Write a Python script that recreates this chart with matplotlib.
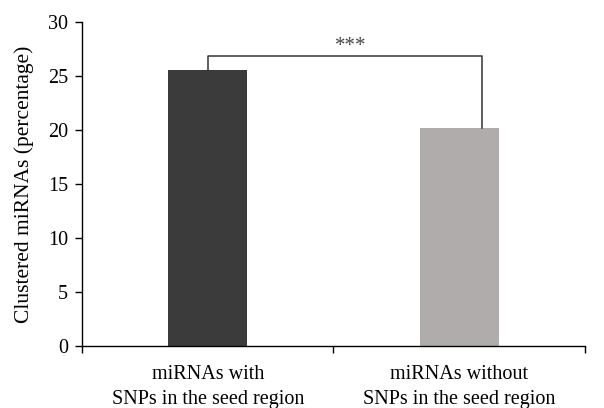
import matplotlib
matplotlib.use("Agg")
import matplotlib.pyplot as plt

# data
categories = ["miRNAs with\nSNPs in the seed region", "miRNAs without\nSNPs in the seed region"]
values = [25.55, 20.2]
colors = ["#3c3b3c", "#b0acab"]
yticks = [0, 5, 10, 15, 20, 25, 30]

plt.rcParams['font.family'] = ['Liberation Serif', 'DejaVu Serif']

fig = plt.figure(figsize=(6.04, 4.08), dpi=100)
ax = fig.add_axes([0.1358, 0.152, 0.8327, 0.794])

x = [0, 1]
ax.bar(x, values, width=0.315, color=colors)

# significance bracket
h = 26.9
ax.plot([0, 0, 1.09, 1.09], [values[0], h, h, values[1]], color="#333333", lw=1.1)
ax.text(0.57, 26.85, "***", ha="center", va="bottom", fontsize=15, color="#444444")

ax.set_xlim(-0.5, 1.5)
ax.set_ylim(0, 30)
ax.set_yticks(yticks)
ax.set_xticks(x)
ax.set_xticklabels(categories, fontsize=14.5, linespacing=1.4)
ax.set_xticks([-0.5, 0.5, 1.5], minor=True)
ax.tick_params(axis="x", which="major", length=0, pad=14)
ax.tick_params(axis="x", which="minor", length=5, width=1)
ax.tick_params(axis="y", length=5, width=1, labelsize=14.5, pad=5)
ax.set_ylabel("Clustered miRNAs (percentage)", fontsize=15.5, labelpad=10)

for s in ["top", "right"]:
    ax.spines[s].set_visible(False)
for s in ["left", "bottom"]:
    ax.spines[s].set_linewidth(1)

fig.savefig("out.png", dpi=100)
